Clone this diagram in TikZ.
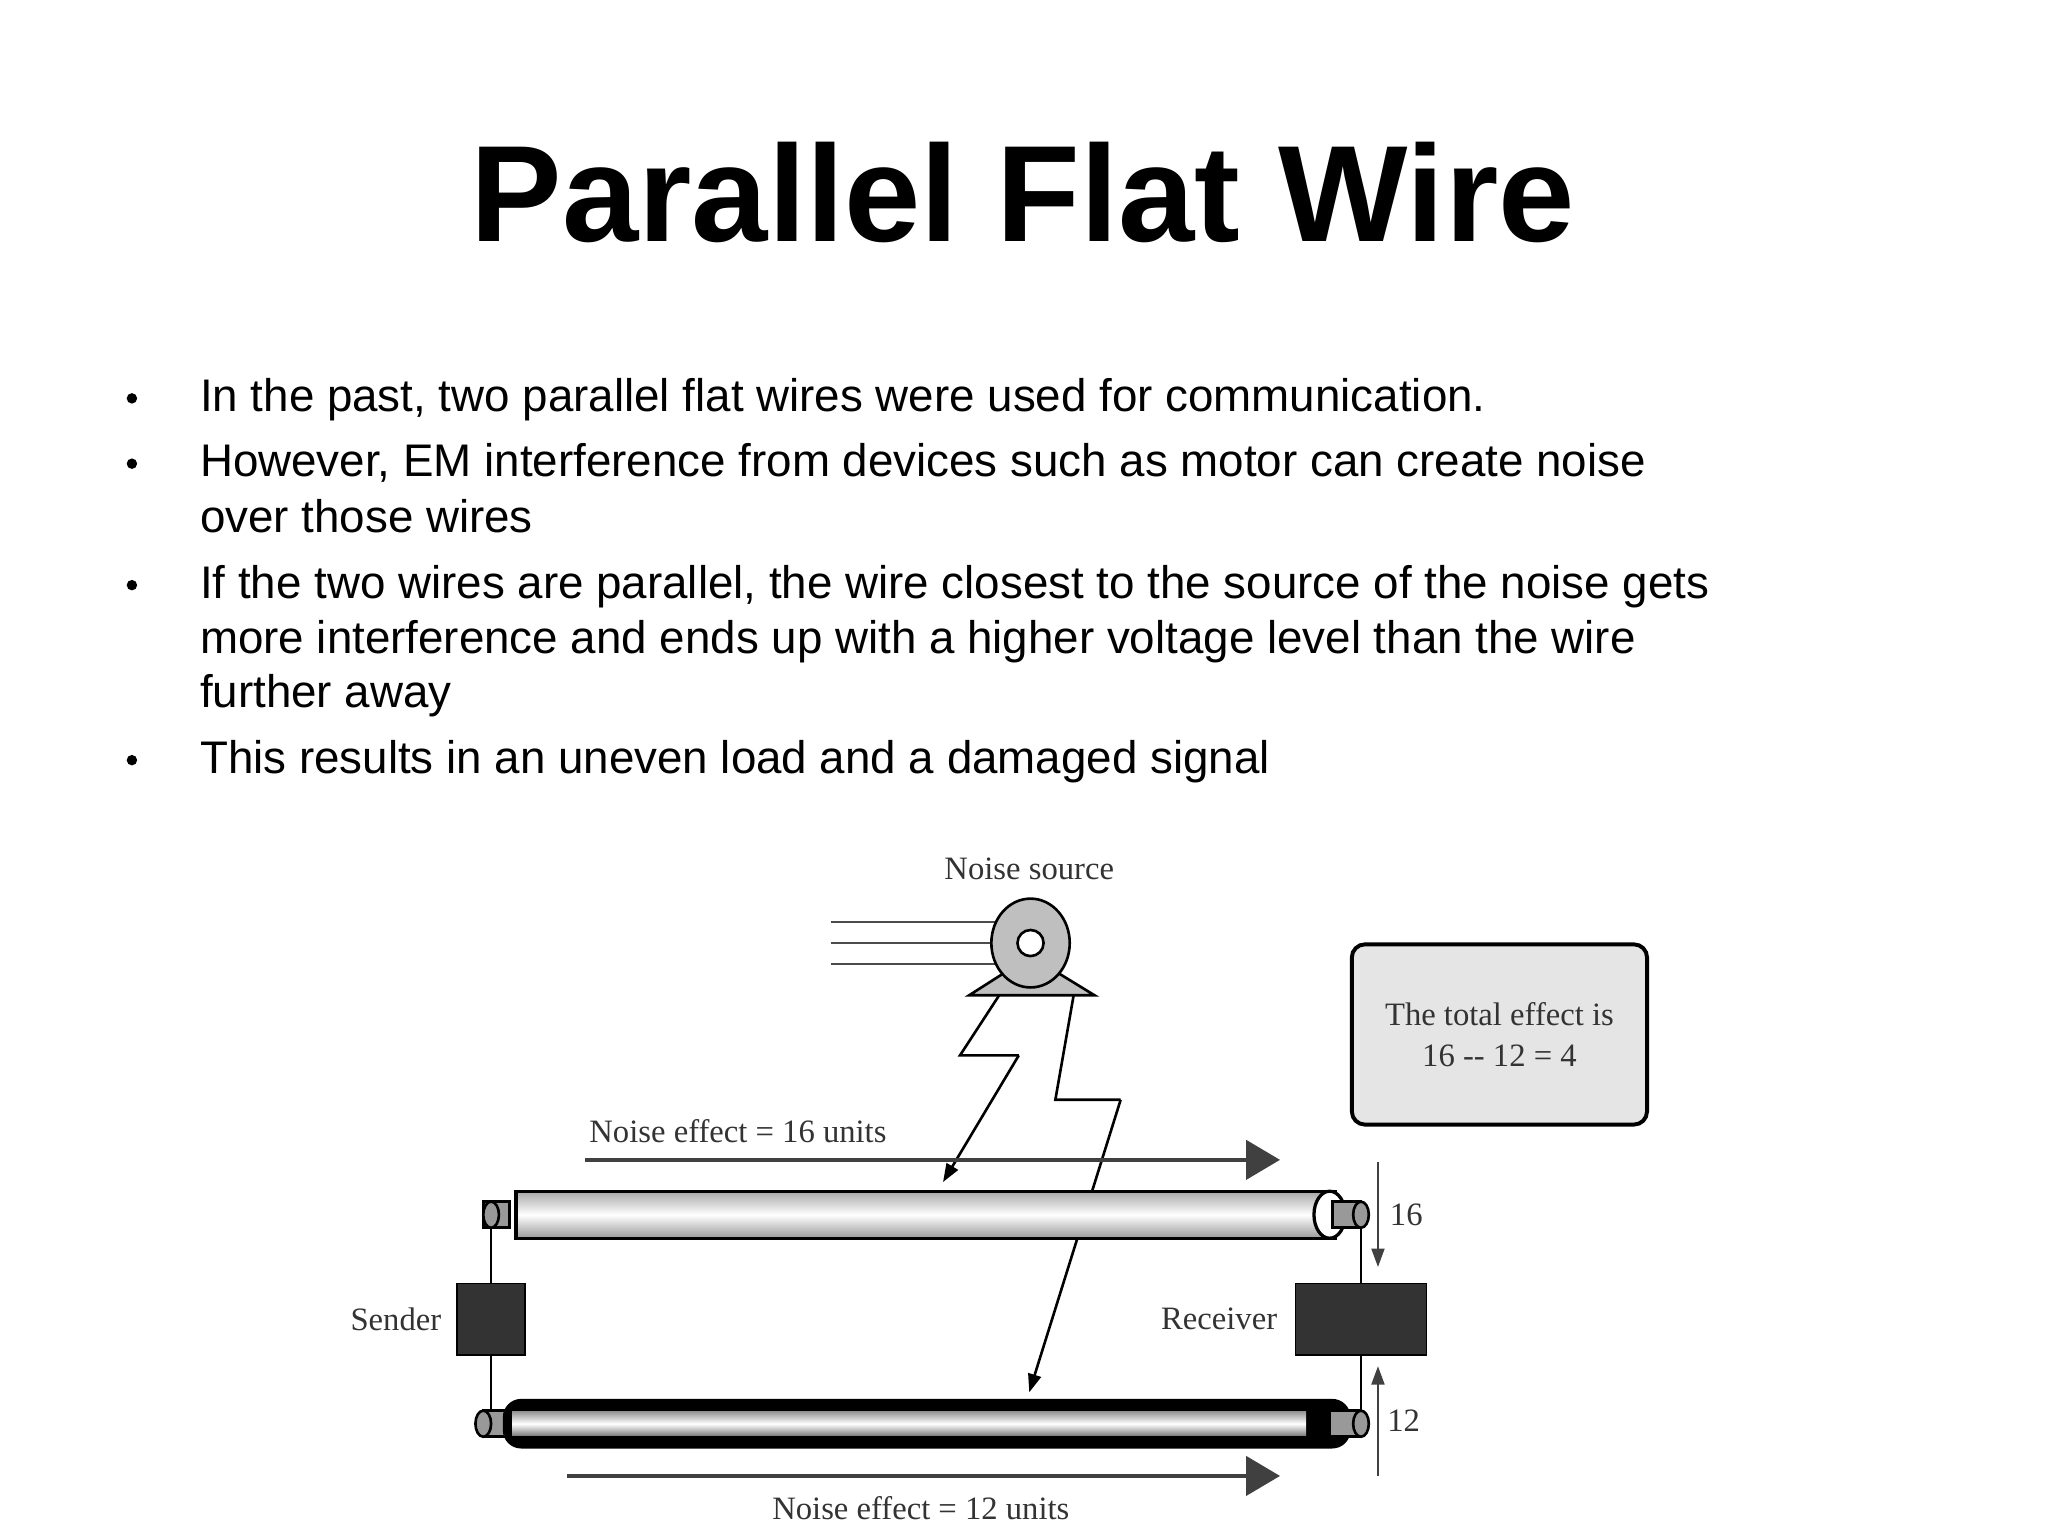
\documentclass[tikz,border=0pt]{standalone}
\usepackage{fontspec}
\setmainfont{Liberation Sans}
\newfontfamily\serifd{Liberation Serif}
\usetikzlibrary{arrows.meta}
\begin{document}
\begin{tikzpicture}[x=1pt,y=-1pt,
  bul/.style={anchor=base west,font=\fontsize{35}{42}\selectfont,inner sep=0},
  lab/.style={font=\serifd\fontsize{25}{30}\selectfont,text=black!80,inner sep=0},
  bigarrow/.style={line width=3pt,black!75,-{Triangle[length=26pt,width=30pt]}},
  thin/.style={line width=1.2pt,-{Triangle[length=14pt,width=10pt]}},
  blk/.style={draw=black,fill=black!80,line width=1pt}]
\useasboundingbox (0,0) rectangle (1568,1176);
\node[anchor=base,font=\bfseries\fontsize{105}{110}\selectfont,inner sep=0] (title) at (783,185) {Parallel Flat Wire};
\foreach \y/\t [count=\i] in {315/{In the past, two parallel flat wires were used for communication.},
  365/{However, EM interference from devices such as motor can create noise},
  408/{over those wires},
  458/{If the two wires are parallel, the wire closest to the source of the noise gets},
  500/{more interference and ends up with a higher voltage level than the wire},
  542/{further away},
  592/{This results in an uneven load and a damaged signal}}
  {\node[bul] (b\i) at (153,\y) {\t};}
\foreach \y [count=\i] in {305,355,448,582}{\fill (101,\y) circle (4) coordinate (d\i);}
% noise source
\node[lab] (ns) at (788,665) {Noise source};
\foreach \y in {706,722,738}{\draw[line width=1.2pt,black!70] (636,\y) -- (765,\y);}
\draw[line width=2pt,fill=black!25] (742,762) -- (789,732) -- (838,762) -- cycle;
\draw[line width=2pt,fill=black!25] (789,722) ellipse (30 and 34);
\draw[line width=2pt,fill=white] (789,722) circle (10);
% lightning
\draw[line width=2pt] (765,762) -- (735,808) -- (780,808) coordinate (l1);
\coordinate (t1) at (722,905);
\draw[thin,line width=2pt] (l1) -- (t1);
\draw[line width=2pt] (822,762) -- (808,842) -- (858,842) coordinate (l2);
\coordinate (t2) at (788,1066);
\draw[thin,line width=2pt] (l2) -- (t2);
% box
\node[draw,line width=3pt,fill=black!10,rounded corners=10pt,minimum width=226pt,minimum height=138pt,
  align=center,font=\serifd\fontsize{25}{31}\selectfont,text=black!80] (box) at (1148,792) {The total effect is\\16 -- 12 = 4};
% arrows
\node[lab] (n16) at (565,866) {Noise effect = 16 units};
\coordinate (a1s) at (448,888); \coordinate (a1e) at (980,888);
\draw[bigarrow] (a1s) -- (a1e);
\node[lab] (n12) at (705,1155) {Noise effect = 12 units};
\coordinate (a2s) at (434,1130); \coordinate (a2e) at (980,1130);
\draw[bigarrow] (a2s) -- (a2e);
% vertical wires
\draw[line width=1.5pt] (376,930) -- (376,1090);
\draw[line width=1.5pt] (1042,930) -- (1042,1090);
% top wire
\draw[line width=2pt,fill=black!40] (370,920) rectangle (390,940);
\draw[line width=2.5pt,top color=black!35,bottom color=black!40,middle color=white] (395,912) rectangle (1022,948);
\draw[line width=2.5pt,fill=white] (1018,930) ellipse (12 and 18);
\draw[line width=2pt,fill=black!40] (1020,920) rectangle (1042,940);
\draw[line width=2pt,fill=black!40] (1042,930) ellipse (6 and 10);
% bottom wire
\draw[line width=2pt,fill=black!40] (370,1080) rectangle (390,1100);
\fill[black,rounded corners=14pt] (385,1071) rectangle (1034,1109);
\shade[top color=black!40,bottom color=black!50,middle color=white] (392,1081) rectangle (1000,1099);
\draw[line width=2pt,fill=black!40] (1018,1080) rectangle (1042,1100);
\draw[line width=2pt,fill=black!40] (1042,1090) ellipse (6 and 10);
\draw[line width=2pt,fill=black!40] (370,1090) ellipse (6 and 10);
\draw[line width=2pt,fill=black!40] (376,930) ellipse (6 and 10);
% sender / receiver
\node[blk,minimum width=52pt,minimum height=55pt] (snd) at (376,1010) {};
\node[lab,anchor=east] (sl) at (338,1010) {Sender};
\node[blk,minimum width=100pt,minimum height=55pt] (rcv) at (1042,1010) {};
\node[lab,anchor=east] (rl) at (978,1010) {Receiver};
% 16 / 12
\coordinate (u1) at (1055,890); \coordinate (u2) at (1055,970);
\draw[thin,black!75] (u1) -- (u2);
\node[lab,anchor=west] (v16) at (1064,930) {16};
\coordinate (w1) at (1055,1130); \coordinate (w2) at (1055,1046);
\draw[thin,black!75] (w1) -- (w2);
\node[lab,anchor=west] (v12) at (1062,1088) {12};
\end{tikzpicture}
\end{document}
